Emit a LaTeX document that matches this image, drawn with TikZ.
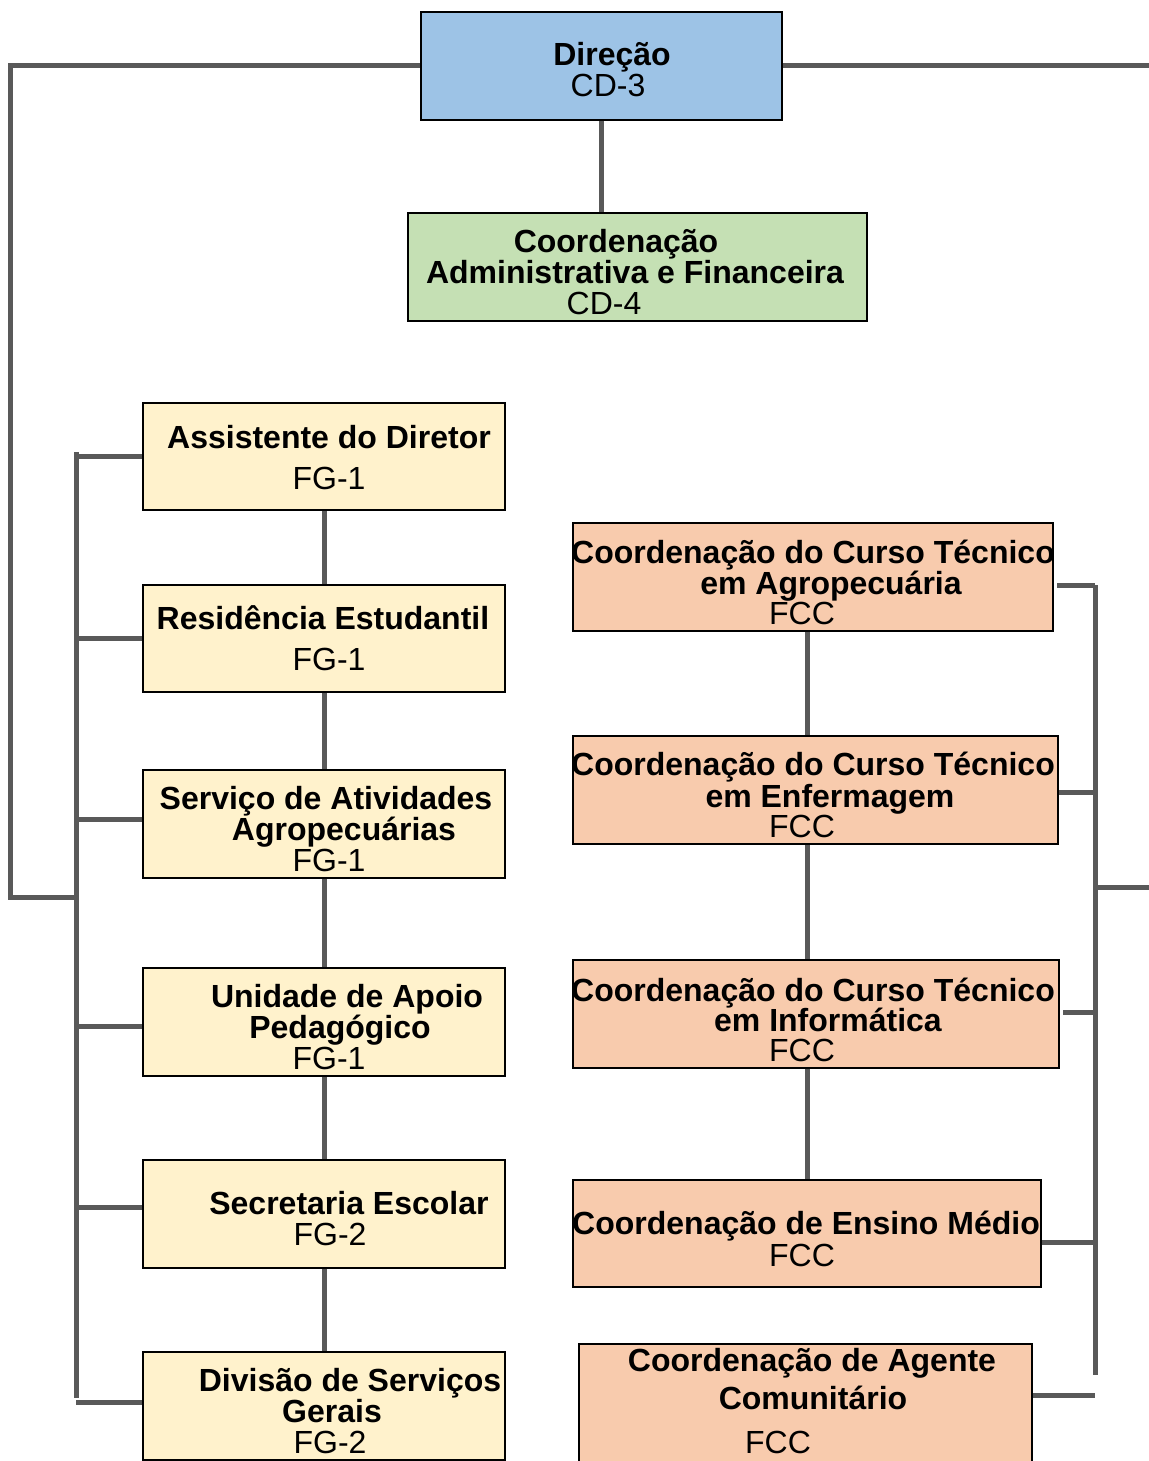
\documentclass[tikz,border=0pt]{standalone}
\usepackage{fontspec}
\setmainfont{Liberation Sans}
\definecolor{cblue}{HTML}{9DC3E6}
\definecolor{cgreen}{HTML}{C5E0B4}
\definecolor{cyellow}{HTML}{FFF2CC}
\definecolor{corange}{HTML}{F8CBAD}
\definecolor{cline}{HTML}{595959}
\begin{document}
\begin{tikzpicture}[x=1pt,y=-1pt,
  box/.style={draw=black, line width=2pt, inner sep=0pt, rectangle},
  conn/.style={draw=cline, line width=5pt},
  tb/.style={anchor=base, inner sep=0pt, font=\fontsize{32}{31}\selectfont\bfseries},
  tr/.style={anchor=base, inner sep=0pt, font=\fontsize{32}{31}\selectfont}]
\useasboundingbox (0,0) rectangle (1148,1461);
\fill[white] (0,0) rectangle (1148,1461);

% boxes
\node[box, fill=cblue, minimum width=361, minimum height=108] (dir) at (601.5,66) {};
\node[box, fill=cgreen, minimum width=459, minimum height=108] (adm) at (637.5,267) {};

\node[box, fill=cyellow, minimum width=362, minimum height=107] (asst) at (324,456.5) {};
\node[box, fill=cyellow, minimum width=362, minimum height=107] (res) at (324,638.5) {};
\node[box, fill=cyellow, minimum width=362, minimum height=108] (serv) at (324,824) {};
\node[box, fill=cyellow, minimum width=362, minimum height=108] (unid) at (324,1022) {};
\node[box, fill=cyellow, minimum width=362, minimum height=108] (secr) at (324,1214) {};
\node[box, fill=cyellow, minimum width=362, minimum height=108] (divs) at (324,1406) {};

\node[box, fill=corange, minimum width=480, minimum height=108] (agro) at (813,577) {};
\node[box, fill=corange, minimum width=485, minimum height=108] (enf) at (815.5,790) {};
\node[box, fill=corange, minimum width=486, minimum height=108] (info) at (816,1014) {};
\node[box, fill=corange, minimum width=468, minimum height=107] (medio) at (807,1233.5) {};
\node[box, fill=corange, minimum width=453, minimum height=124] (agen) at (805.5,1406) {};

% texts
\node[tb] (dirA) at (612,66) {Direção};
\node[tr] (dirB) at (608,97) {CD-3};
\node[tb] (admA) at (616,252) {Coordenação};
\node[tb] (admB) at (635,283) {Administrativa e Financeira};
\node[tr] (admC) at (604,314) {CD-4};

\node[tb] (asstA) at (329,448) {Assistente do Diretor};
\node[tr] (asstB) at (329,489) {FG-1};
\node[tb] (resA) at (323,629) {Residência Estudantil};
\node[tr] (resB) at (329,670) {FG-1};
\node[tb] (servA) at (326,809) {Serviço de Atividades};
\node[tb] (servB) at (344,840) {Agropecuárias};
\node[tr] (servC) at (329,871) {FG-1};
\node[tb] (unidA) at (347,1007) {Unidade de Apoio};
\node[tb] (unidB) at (340,1038) {Pedagógico};
\node[tr] (unidC) at (329,1069) {FG-1};
\node[tb] (secrA) at (349,1214) {Secretaria Escolar};
\node[tr] (secrB) at (330,1245) {FG-2};
\node[tb] (divsA) at (350,1391) {Divisão de Serviços};
\node[tb] (divsB) at (332,1422) {Gerais};
\node[tr] (divsC) at (330,1453) {FG-2};

\node[tb] (agroA) at (813,563) {Coordenação do Curso Técnico};
\node[tb] (agroB) at (831,594) {em Agropecuária};
\node[tr] (agroC) at (802,624) {FCC};
\node[tb] (enfA) at (813,775) {Coordenação do Curso Técnico};
\node[tb] (enfB) at (830,807) {em Enfermagem};
\node[tr] (enfC) at (802,837) {FCC};
\node[tb] (infoA) at (813,1001) {Coordenação do Curso Técnico};
\node[tb] (infoB) at (828,1031) {em Informática};
\node[tr] (infoC) at (802,1061) {FCC};
\node[tb] (medioA) at (806,1234) {Coordenação de Ensino Médio};
\node[tr] (medioB) at (802,1266) {FCC};
\node[tb] (agenA) at (812,1371) {Coordenação de Agente};
\node[tb] (agenB) at (813,1409) {Comunitário};
\node[tr] (agenC) at (778,1453) {FCC};

% connector coordinates
\coordinate (lcorner) at (10,66);
\coordinate (lbottom) at (10,897);
\coordinate (ljoin) at (76,897);
\coordinate (rend) at (1150,66);
\coordinate (lbt) at (76,452);
\coordinate (lbb) at (76,1398);
\coordinate (rbt) at (1095,585);
\coordinate (rbb) at (1095,1375);
\coordinate (rjoin) at (1095,887);
\coordinate (rjend) at (1150,887);
\coordinate (agenend) at (1095,1395);

% connectors
\draw[conn] (dir.south) -- (dir.south |- adm.north);
\draw[conn] (dir.west) -- (lcorner) -- (lbottom) -- (ljoin);
\draw[conn] (dir.east) -- (rend);

\draw[conn] (lbt) -- (lbb);
\draw[conn] (asst.west -| lbt) -- (asst.west);
\draw[conn] (res.west -| lbt) -- (res.west);
\draw[conn] ([yshift=5pt]serv.west -| lbt) -- ([yshift=5pt]serv.west);
\draw[conn] ([yshift=-4pt]unid.west -| lbt) -- ([yshift=-4pt]unid.west);
\draw[conn] ([yshift=7pt]secr.west -| lbt) -- ([yshift=7pt]secr.west);
\draw[conn] ([yshift=4pt]divs.west -| lbt) -- ([yshift=4pt]divs.west);

\draw[conn] (asst.south) -- (res.north);
\draw[conn] (res.south) -- (serv.north);
\draw[conn] (serv.south) -- (unid.north);
\draw[conn] (unid.south) -- (secr.north);
\draw[conn] (secr.south) -- (divs.north);

\draw[conn] ([xshift=-6pt]agro.south) -- ([xshift=-6pt]agro.south |- enf.north);
\draw[conn] ([xshift=-6pt]agro.south |- enf.south) -- ([xshift=-6pt]agro.south |- info.north);
\draw[conn] ([xshift=-6pt]agro.south |- info.south) -- ([xshift=-6pt]agro.south |- medio.north);

\draw[conn] (rbt) -- (rbb);
\draw[conn] ([xshift=3pt]agro.east |- rbt) -- (rbt);
\draw[conn] ([yshift=-2pt]enf.east) -- ([yshift=-2pt]enf.east -| rbt);
\draw[conn] ([xshift=3pt,yshift=2pt]info.east) -- ([yshift=2pt]info.east -| rbt);
\draw[conn] ([yshift=-8.5pt]medio.east) -- ([yshift=-8.5pt]medio.east -| rbt);
\draw[conn] (rjoin) -- (rjend);
\draw[conn] (agen.east |- agenend) -- (agenend);
\end{tikzpicture}
\end{document}
